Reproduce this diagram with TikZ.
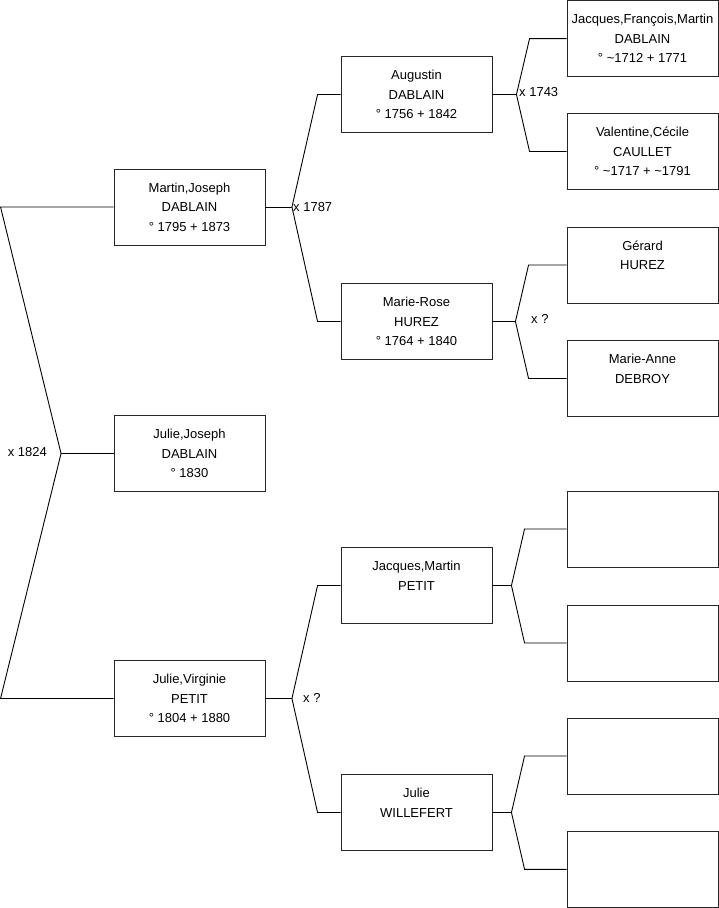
\documentclass[tikz,border=0pt]{standalone}
\usepackage{fontspec}
\setmainfont{Liberation Sans}
\begin{document}
\begin{tikzpicture}[x=1pt,y=-1pt,
  person/.style={draw=black!85, line width=0.9pt, minimum width=151pt, minimum height=76pt,
    inner sep=0pt, align=center, font=\fontsize{13}{19.5}\selectfont},
  link/.style={draw=black, line width=0.9pt},
  lbl/.style={inner sep=0pt, font=\fontsize{13}{15}\selectfont}]
\useasboundingbox (0,0) rectangle (719,908);
% generation 1
\node[person] (m1) at (189.5,207) {Martin,Joseph\\DABLAIN\\° 1795 + 1873};
\node[person] (r0) at (189.5,453.5) {Julie,Joseph\\DABLAIN\\° 1830};
\node[person] (f1) at (189.5,698.5) {Julie,Virginie\\PETIT\\° 1804 + 1880};
% generation 2
\node[person] (a1) at (416.5,94.5) {Augustin\\DABLAIN\\° 1756 + 1842};
\node[person] (b1) at (416.5,321.5) {Marie-Rose\\HUREZ\\° 1764 + 1840};
\node[person] (c1) at (416.5,585.5) {Jacques,Martin\\PETIT\\\mbox{}};
\node[person] (d1) at (416.5,812.5) {Julie\\WILLEFERT\\\mbox{}};
% generation 3
\node[person] (g1) at (642.5,38.6) {Jacques,François,Martin\\DABLAIN\\° \textasciitilde1712 + 1771};
\node[person] (g2) at (642.5,151.5) {Valentine,Cécile\\CAULLET\\° \textasciitilde1717 + \textasciitilde1791};
\node[person] (g3) at (642.5,265) {Gérard\\HUREZ\\\mbox{}};
\node[person] (g4) at (642.5,378.5) {Marie-Anne\\DEBROY\\\mbox{}};
\node[person] (g5) at (642.5,529) {};
\node[person] (g6) at (642.5,643) {};
\node[person] (g7) at (642.5,756) {};
\node[person] (g8) at (642.5,869.3) {};
% couple vertices
\coordinate (v0) at ([xshift=-52.5pt]r0.west);
\coordinate (v1) at ([xshift=26.5pt]m1.east);
\coordinate (v2) at ([xshift=26.5pt]f1.east);
\coordinate (va) at ([xshift=24pt]a1.east);
\coordinate (vb) at ([xshift=23pt]b1.east);
\coordinate (vc) at ([xshift=19pt]c1.east);
\coordinate (vd) at ([xshift=19pt]d1.east);
% root
\draw[link] (m1.west) -- ([xshift=-113pt]m1.west) -- (v0) -- ([xshift=-113pt]f1.west) -- (f1.west);
\draw[link] (v0) -- (r0.west);
\node[lbl, anchor=east] (l0) at (47,452) {x 1824};
% Martin's parents
\draw[link] (m1.east) -- (v1);
\draw[link] (a1.west) -- ([xshift=-23pt]a1.west) -- (v1) -- ([xshift=-23pt]b1.west) -- (b1.west);
\node[lbl, anchor=west] (l1) at (293,207) {x 1787};
% Julie Virginie's parents
\draw[link] (f1.east) -- (v2);
\draw[link] (c1.west) -- ([xshift=-23pt]c1.west) -- (v2) -- ([xshift=-23pt]d1.west) -- (d1.west);
\node[lbl, anchor=west] (l2) at (303,698) {x ?};
% Augustin's parents
\draw[link] (a1.east) -- (va);
\draw[link] (g1.west) -- ([xshift=-37pt]g1.west) -- (va) -- ([xshift=-37pt]g2.west) -- (g2.west);
\node[lbl, anchor=west] (la) at (519,92) {x 1743};
% Marie-Rose's parents
\draw[link] (b1.east) -- (vb);
\draw[link] (g3.west) -- ([xshift=-38pt]g3.west) -- (vb) -- ([xshift=-38pt]g4.west) -- (g4.west);
\node[lbl, anchor=west] (lb) at (531,319) {x ?};
% Jacques Martin's parents
\draw[link] (c1.east) -- (vc);
\draw[link] (g5.west) -- ([xshift=-42pt]g5.west) -- (vc) -- ([xshift=-42pt]g6.west) -- (g6.west);
% Julie Willefert's parents
\draw[link] (d1.east) -- (vd);
\draw[link] (g7.west) -- ([xshift=-42pt]g7.west) -- (vd) -- ([xshift=-42pt]g8.west) -- (g8.west);
\end{tikzpicture}
\end{document}
